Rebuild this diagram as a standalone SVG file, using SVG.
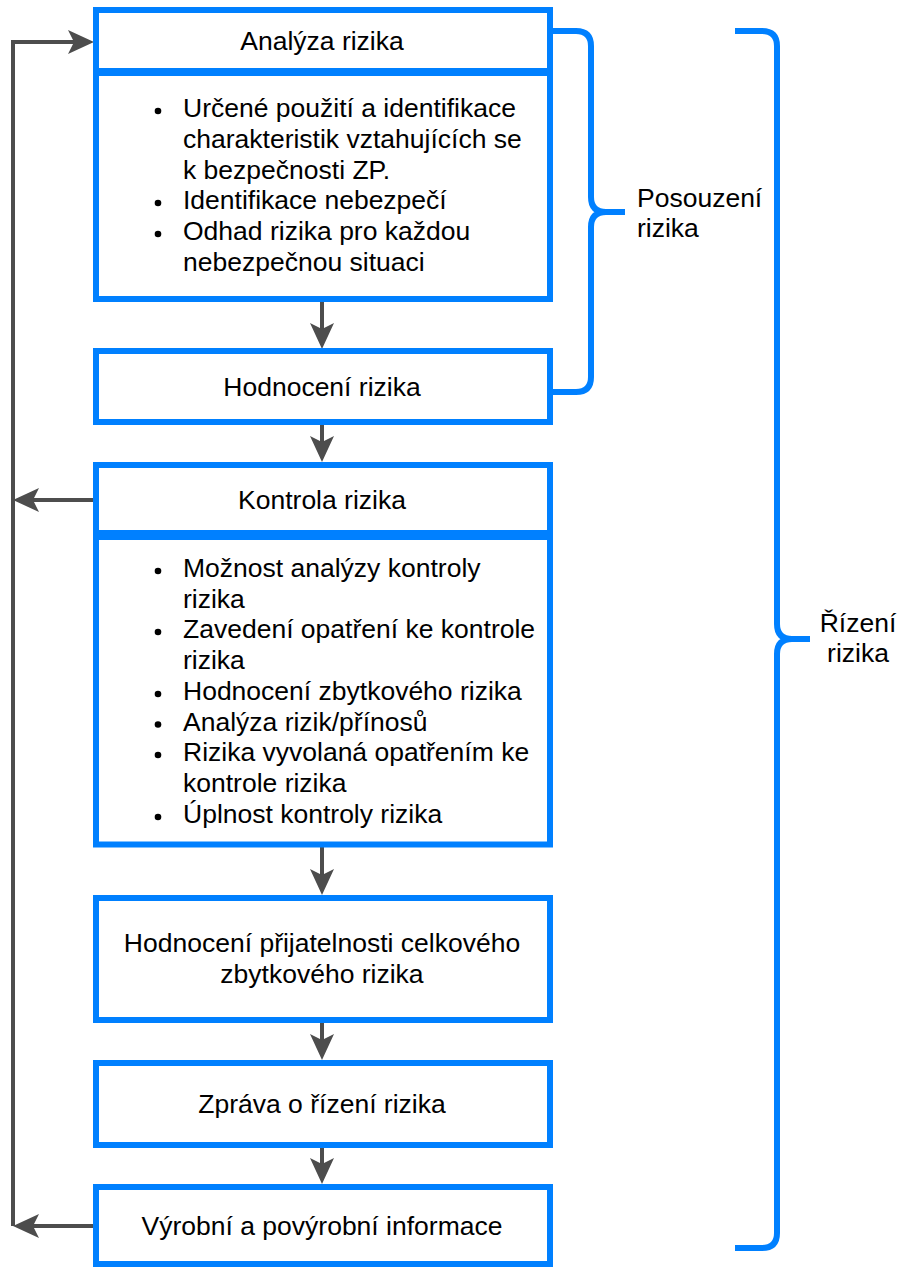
<svg xmlns="http://www.w3.org/2000/svg" width="901" height="1267" viewBox="0 0 901 1267">
  <defs>
    <style>
      .box { fill: #ffffff; stroke: #0080ff; stroke-width: 6; }
      .brace { fill: none; stroke: #0080ff; stroke-width: 6; stroke-linecap: butt; stroke-linejoin: round; }
      .edge { fill: none; stroke: #4d4d4d; stroke-width: 4; }
      .t { font-family: "Liberation Sans", Arial, Helvetica, sans-serif; font-size: 26.5px; fill: #000000; }
      .c { text-anchor: middle; }
      .dot { fill: #000000; }
    </style>
    <marker id="arrow" viewBox="-26 -12 26 24" refX="-20" refY="0" markerWidth="26" markerHeight="24" markerUnits="userSpaceOnUse" orient="auto">
      <path d="M0,0 L-26,-12 L-20,0 L-26,12 Z" fill="#4d4d4d"/>
    </marker>
  </defs>

  <!-- connectors -->
  <g id="connectors">
    <line class="edge" x1="322" y1="299" x2="322" y2="329" marker-end="url(#arrow)"/>
    <line class="edge" x1="322" y1="422" x2="322" y2="442" marker-end="url(#arrow)"/>
    <line class="edge" x1="322" y1="845" x2="322" y2="875" marker-end="url(#arrow)"/>
    <line class="edge" x1="322" y1="1020" x2="322" y2="1040" marker-end="url(#arrow)"/>
    <line class="edge" x1="322" y1="1145" x2="322" y2="1164" marker-end="url(#arrow)"/>
    <!-- feedback loop on the left -->
    <polyline class="edge" points="13,1226 13,42 74,42" marker-end="url(#arrow)"/>
    <line class="edge" x1="94" y1="1226" x2="33" y2="1226" marker-end="url(#arrow)"/>
    <line class="edge" x1="94" y1="500" x2="33" y2="500" marker-end="url(#arrow)"/>
  </g>

  <!-- Analýza rizika -->
  <g id="analyza-header">
    <rect class="box" x="96" y="10" width="454" height="61"/>
    <text class="t c" x="322" y="50">Analýza rizika</text>
  </g>
  <g id="analyza-body">
    <rect class="box" x="96" y="73" width="454" height="226"/>
    <circle class="dot" cx="158" cy="111" r="3.3"/>
    <text class="t" x="183" y="117">Určené použití a identifikace</text>
    <text class="t" x="183" y="148">charakteristik vztahujících se</text>
    <text class="t" x="183" y="178.5">k bezpečnosti ZP.</text>
    <circle class="dot" cx="158" cy="203" r="3.3"/>
    <text class="t" x="183" y="209">Identifikace nebezpečí</text>
    <circle class="dot" cx="158" cy="234" r="3.3"/>
    <text class="t" x="183" y="240">Odhad rizika pro každou</text>
    <text class="t" x="183" y="270.5">nebezpečnou situaci</text>
  </g>

  <!-- Hodnocení rizika -->
  <g id="hodnoceni">
    <rect class="box" x="96" y="351" width="454" height="71"/>
    <text class="t c" x="322" y="396">Hodnocení rizika</text>
  </g>

  <!-- Kontrola rizika -->
  <g id="kontrola-header">
    <rect class="box" x="96" y="465" width="454" height="68"/>
    <text class="t c" x="322" y="509">Kontrola rizika</text>
  </g>
  <g id="kontrola-body">
    <rect class="box" x="96" y="537" width="454" height="307.5"/>
    <circle class="dot" cx="158" cy="571" r="3.3"/>
    <text class="t" x="183" y="577">Možnost analýzy kontroly</text>
    <text class="t" x="183" y="607.5">rizika</text>
    <circle class="dot" cx="158" cy="632" r="3.3"/>
    <text class="t" x="183" y="638">Zavedení opatření ke kontrole</text>
    <text class="t" x="183" y="669">rizika</text>
    <circle class="dot" cx="158" cy="694" r="3.3"/>
    <text class="t" x="183" y="700">Hodnocení zbytkového rizika</text>
    <circle class="dot" cx="158" cy="724.5" r="3.3"/>
    <text class="t" x="183" y="730.5">Analýza rizik/přínosů</text>
    <circle class="dot" cx="158" cy="755" r="3.3"/>
    <text class="t" x="183" y="761">Rizika vyvolaná opatřením ke</text>
    <text class="t" x="183" y="792">kontrole rizika</text>
    <circle class="dot" cx="158" cy="817" r="3.3"/>
    <text class="t" x="183" y="823">Úplnost kontroly rizika</text>
  </g>

  <!-- Hodnocení přijatelnosti -->
  <g id="prijatelnost">
    <rect class="box" x="96" y="898" width="454" height="122"/>
    <text class="t c" x="322" y="952">Hodnocení přijatelnosti celkového</text>
    <text class="t c" x="322" y="983">zbytkového rizika</text>
  </g>

  <!-- Zpráva o řízení rizika -->
  <g id="zprava">
    <rect class="box" x="96" y="1063" width="454" height="82"/>
    <text class="t c" x="322" y="1113">Zpráva o řízení rizika</text>
  </g>

  <!-- Výrobní a povýrobní informace -->
  <g id="vyrobni">
    <rect class="box" x="96" y="1187" width="454" height="77"/>
    <text class="t c" x="322" y="1235">Výrobní a povýrobní informace</text>
  </g>

  <!-- Posouzení rizika brace -->
  <g id="posouzeni">
    <path class="brace" d="M552,31 H576 Q591,31 591,46 V197 Q591,212 606,212 H625 M606,212 Q591,212 591,227 V377 Q591,392 576,392 H552"/>
    <text class="t" x="637" y="207">Posouzení</text>
    <text class="t" x="637" y="237">rizika</text>
  </g>

  <!-- Řízení rizika brace -->
  <g id="rizeni">
    <path class="brace" d="M735,31 H762 Q777,31 777,46 V624 Q777,639 792,639 H810 M792,639 Q777,639 777,654 V1233 Q777,1248 762,1248 H735"/>
    <text class="t c" x="858" y="632">Řízení</text>
    <text class="t c" x="858" y="662">rizika</text>
  </g>
</svg>
